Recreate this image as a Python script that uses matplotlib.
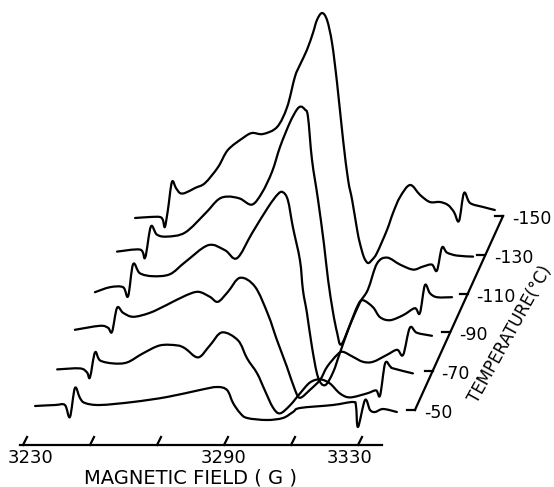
import matplotlib
matplotlib.use("Agg")
import matplotlib.pyplot as plt
from matplotlib.path import Path
from matplotlib.patches import PathPatch

# Temperatures (deg C), front to back
temps = [-50, -70, -90, -110, -130, -150]

# EPR spectra: magnetic field (G) and first-derivative intensity (arb. units)
field_m50 = [3233.6, 3239.6, 3242.5, 3244.0, 3245.5, 3247.0, 3248.5, 3253.0, 3262.8, 3273.0,
             3282.8, 3287.9, 3290.9, 3292.7, 3294.8, 3296.9, 3302.8, 3307.6, 3310.6, 3312.7,
             3322.5, 3328.5, 3329.4, 3330.0, 3332.1, 3333.6, 3335.1, 3337.5, 3341.6]
int_m50 = [0, 1, 1, -11, 18, 8, 3, 1, 4, 9,
           16, 19, 16, 3, -7, -12, -14, -12, -6, -2,
           1, 4, 0, -21, 6, -4, -6, -3, -6]

field_m70 = [3234.4, 3241.2, 3243.3, 3244.2, 3245.7, 3247.2, 3251.1, 3255.3, 3260.0, 3265.1,
             3270.2, 3272.6, 3276.5, 3280.0, 3283.6, 3288.4, 3291.1, 3294.1, 3296.4, 3298.8,
             3300.9, 3303.9, 3306.9, 3309.9, 3312.9, 3315.8, 3318.8, 3321.8, 3326.9, 3329.6,
             3330.8, 3332.3, 3333.8, 3334.7, 3340.6]
int_m70 = [-1, 0, -4, -9, 16, 8, 5, 6, 15, 23,
           23, 20, 11, 23, 36, 28, 10, -5, -22, -39,
           -45, -37, -25, -14, -11, -15, -25, -29, -25, -22,
           -27, 5, 2, 0, -5]

field_m90 = [3233.9, 3241.4, 3243.8, 3245.0, 3246.5, 3248.3, 3251.3, 3256.3, 3261.4, 3266.8,
             3270.7, 3274.2, 3276.6, 3279.6, 3283.2, 3287.7, 3291.6, 3294.2, 3297.2, 3299.6,
             3301.1, 3304.1, 3307.1, 3309.2, 3312.2, 3313.9, 3316.9, 3319.9, 3322.9, 3327.1,
             3330.1, 3331.9, 3333.9, 3336.0, 3340.5]
int_m90 = [1, 5, 3, -1, 23, 18, 14, 18, 26, 35,
           39, 34, 29, 39, 53, 44, 16, -9, -36, -59,
           -67, -59, -49, -36, -24, -21, -26, -31, -31, -24,
           -19, -24, 3, -2, -5]

field_m110 = [3234.1, 3238.6, 3242.5, 3244.0, 3245.5, 3247.5, 3251.4, 3256.5, 3261.0, 3267.9,
              3272.9, 3276.5, 3281.0, 3285.8, 3288.7, 3290.2, 3291.7, 3293.2, 3295.3, 3296.2,
              3297.4, 3298.9, 3300.7, 3302.8, 3305.2, 3307.3, 3310.2, 3312.6, 3314.1, 3317.1,
              3319.2, 3322.2, 3326.1, 3329.6, 3331.1, 3332.6, 3334.1, 3336.2, 3340.7]
int_m110 = [1, 6, 6, -3, 29, 20, 17, 19, 31, 48,
            43, 35, 60, 86, 99, 101, 93, 66, 33, 3,
            -20, -54, -84, -92, -79, -59, -32, -12, -7, -14,
            -24, -27, -22, -15, -20, 8, 0, -4, -4]

field_m130 = [3234.9, 3241.8, 3243.3, 3245.0, 3246.8, 3249.8, 3255.2, 3261.2, 3265.1, 3268.0,
              3271.6, 3275.2, 3278.2, 3281.2, 3283.6, 3286.5, 3288.6, 3289.8, 3291.0, 3291.9,
              3293.1, 3294.9, 3296.7, 3297.9, 3299.4, 3300.6, 3301.8, 3304.5, 3307.4, 3309.8,
              3312.5, 3315.5, 3319.4, 3323.3, 3326.2, 3328.9, 3330.4, 3331.9, 3333.4, 3336.4,
              3341.2]
int_m130 = [4, 6, -2, 29, 21, 19, 23, 42, 56, 59,
            57, 51, 63, 84, 109, 133, 146, 149, 146, 139,
            96, 56, 11, -24, -57, -77, -89, -69, -47, -34,
            -8, -2, -9, -14, -11, -9, -15, 8, 3, 0,
            -1]

field_m150 = [3234.5, 3239.0, 3241.9, 3242.8, 3243.4, 3244.3, 3245.5, 3246.7, 3247.9, 3249.4,
              3252.4, 3255.4, 3259.3, 3262.2, 3266.7, 3269.4, 3272.7, 3276.9, 3279.9, 3282.2,
              3283.7, 3285.8, 3287.6, 3288.8, 3290.3, 3291.8, 3293.3, 3294.8, 3296.6, 3298.1,
              3299.3, 3300.8, 3301.6, 3302.8, 3304.0, 3305.2, 3306.7, 3309.7, 3311.5, 3313.6,
              3316.6, 3319.6, 3322.5, 3325.5, 3327.9, 3329.7, 3331.2, 3332.7, 3334.5, 3338.4,
              3341.9]
int_m150 = [0, 1, 1, -2, -9, 8, 36, 30, 25, 25,
            30, 35, 51, 68, 80, 85, 84, 91, 111, 141,
            153, 168, 185, 198, 205, 198, 175, 135, 78, 38,
            18, -12, -25, -39, -45, -42, -35, -12, 5, 21,
            33, 23, 16, 16, 13, 6, -3, 25, 15, 11,
            8]

spectra = [(field_m50, int_m50), (field_m70, int_m70), (field_m90, int_m90),
           (field_m110, int_m110), (field_m130, int_m130), (field_m150, int_m150)]

# Field-axis ticks and labels
field_ticks = [3230, 3250, 3270, 3290, 3310, 3330]
field_labels = {3230: "3230", 3290: "3290", 3330: "3330"}
temp_labels = ["-50", "-70", "-90", "-110", "-130", "-150"]

# --- pseudo-3D projection geometry ---
SHIFT_G = 5.79     # field shift per temperature step (depth skew)
STEP_Y = 37.6      # vertical offset per temperature step
AX_X0, AX_DX = 3347.0, 5.26   # temperature axis: x at -50, shift per step
AX_Y0, AX_DY = -4.0, 38.8     # temperature axis: y at -50, rise per step
LW = 1.6


def smooth_path(xs, ys):
    """Pen-trace style curve through the points (Catmull-Rom as Bezier)."""
    pts = list(zip(xs, ys))
    verts = [pts[0]]
    codes = [Path.MOVETO]
    n = len(pts)
    for i in range(n - 1):
        p0 = pts[i - 1] if i > 0 else pts[i]
        p1 = pts[i]
        p2 = pts[i + 1]
        p3 = pts[i + 2] if i + 2 < n else pts[i + 1]
        c1 = (p1[0] + (p2[0] - p0[0]) / 6.0, p1[1] + (p2[1] - p0[1]) / 6.0)
        c2 = (p2[0] - (p3[0] - p1[0]) / 6.0, p2[1] - (p3[1] - p1[1]) / 6.0)
        verts += [c1, c2, p2]
        codes += [Path.CURVE4] * 3
    return Path(verts, codes)


fig = plt.figure(figsize=(5.54, 4.87), dpi=100)
ax = fig.add_axes([0, 0, 1, 1])
ax.set_xlim(3223.13, 3388.51)
ax.set_ylim(-81, 406)
ax.axis("off")

for k, (f, v) in enumerate(spectra):
    px = [x + k * SHIFT_G for x in f]
    py = [y + k * STEP_Y for y in v]
    ax.add_patch(PathPatch(smooth_path(px, py), facecolor="none", edgecolor="black",
                           lw=LW, joinstyle="round", capstyle="round"))

# Magnetic field axis
axis_y = -39
ax.plot([3229.1, 3337.2], [axis_y, axis_y], color="black", lw=LW)
for b in field_ticks:
    ax.plot([b, b + 1.2], [axis_y, axis_y + 8], color="black", lw=LW)
lab_off = {3230: 2.4, 3290: 0.0, 3330: -2.4}
for b, s in field_labels.items():
    ax.text(b + lab_off[b], axis_y - 13, s, ha="center", va="center",
            fontsize=13, family="DejaVu Sans")
ax.text(3279.9, -72, "MAGNETIC FIELD ( G )", ha="center", va="center",
        fontsize=14, family="DejaVu Sans")

# Temperature axis
n = len(temps)
xs = [AX_X0 + k * AX_DX for k in range(n)]
ys = [AX_Y0 + k * AX_DY for k in range(n)]
ax.plot([xs[0], xs[-1]], [ys[0], ys[-1]], color="black", lw=LW)
for k in range(n):
    ax.plot([xs[k] - 2.4, xs[k]], [ys[k], ys[k]], color="black", lw=LW)
    ax.text(xs[k] + 2.6, ys[k] - 3, temp_labels[k], ha="left", va="center",
            fontsize=12.5, family="DejaVu Sans")
ax.text(3375.4, 72, "TEMPERATURE(°C)", ha="center", va="center", rotation=61,
        rotation_mode="anchor", fontsize=12, family="DejaVu Sans")

fig.savefig("out.png", dpi=100)
